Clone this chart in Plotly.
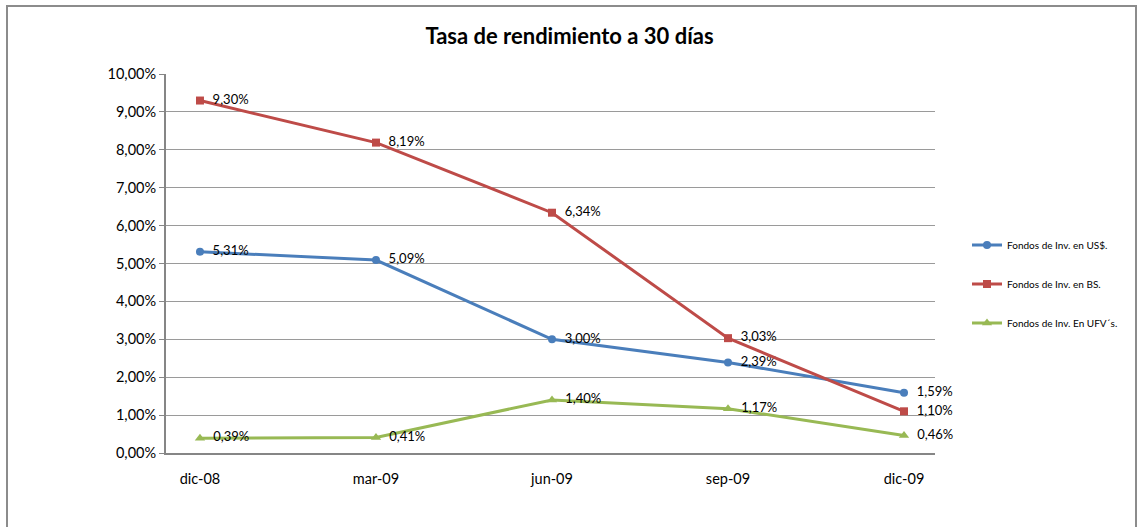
import plotly.graph_objects as go

categories = ["dic-08", "mar-09", "jun-09", "sep-09", "dic-09"]
usd = [5.31, 5.09, 3.00, 2.39, 1.59]
bs = [9.30, 8.19, 6.34, 3.03, 1.10]
ufv = [0.39, 0.41, 1.40, 1.17, 0.46]
names = ["Fondos de Inv. en US$.", "Fondos de Inv. en BS.", "Fondos de Inv. En UFV´s."]
yticks = [0, 1, 2, 3, 4, 5, 6, 7, 8, 9, 10]

def fmt(v):
    return f"{v:.2f}".replace(".", ",") + "%"

xs = list(range(len(categories)))
series = [
    (usd, "#4A7EBB", "circle", 8),
    (bs, "#BE4B48", "square", 8),
    (ufv, "#98B954", "triangle-up", 9),
]

FONT = "Lato, Carlito, Liberation Sans"
W, H = 1139, 527
L, R, T, B = 166, 204, 74, 74
PW, PH = W - L - R, H - T - B

fig = go.Figure()
for i, ((vals, col, sym, ms), nm) in enumerate(zip(series, names)):
    fig.add_trace(go.Scatter(
        x=xs, y=vals, name=nm, mode="lines+markers+text",
        line=dict(color=col, width=3),
        marker=dict(color=col, symbol=sym, size=ms),
        text=["  " + fmt(v) for v in vals], textposition="middle right",
        textfont=dict(size=13, color="#000000", family=FONT),
        cliponaxis=False, legendgroup=str(i),
    ))

fig.update_layout(
    width=W, height=H,
    paper_bgcolor="white", plot_bgcolor="white",
    margin=dict(l=L, r=R, t=T, b=B, autoexpand=False),
    font=dict(family=FONT, color="#000000"),
    title=dict(text="<b>Tasa de rendimiento a 30 días</b>", x=0.5, xanchor="center",
               y=1 - 36 / H, yanchor="middle", font=dict(size=22)),
    showlegend=True,
    legend=dict(x=(967 - L) / PW, xanchor="left", y=1 - (284 - T) / PH, yanchor="middle",
                font=dict(size=10), tracegroupgap=20, itemwidth=30,
                bgcolor="rgba(0,0,0,0)"),
    xaxis=dict(range=[-0.193, 4.176], tickvals=xs, ticktext=categories,
               showgrid=False, zeroline=False, showline=True, linecolor="#868686",
               linewidth=2, tickfont=dict(size=14.5), ticks="", ticklabelstandoff=12),
    yaxis=dict(range=[0, 10], tickvals=yticks, ticktext=[fmt(v) for v in yticks],
               showgrid=True, gridcolor="#9a9a9a", gridwidth=1, zeroline=False,
               showline=True, linecolor="#868686", linewidth=2,
               ticks="outside", ticklen=5, tickcolor="#868686", tickfont=dict(size=14.5)),
    shapes=[dict(type="rect", xref="paper", yref="paper",
                 x0=(7 - L) / PW, x1=(1136 - L) / PW,
                 y0=-(B + 10) / PH, y1=1 + (T - 6) / PH,
                 line=dict(color="#8c8c8c", width=2))],
)

fig.write_html("out.html", config={"displayModeBar": False},
               post_script="document.body.style.margin='0';")
